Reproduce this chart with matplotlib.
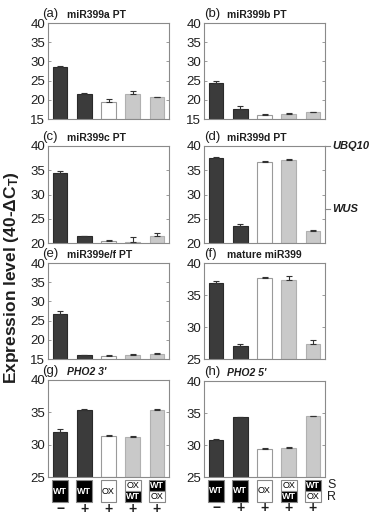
import matplotlib
matplotlib.use("Agg")
import matplotlib.pyplot as plt
from matplotlib.patches import Rectangle
import matplotlib.transforms as mtrans

plt.rcParams['font.family'] = ['Liberation Sans', 'DejaVu Sans']
plt.rcParams['mathtext.fontset'] = 'custom'
plt.rcParams['mathtext.rm'] = 'Liberation Sans:bold'
plt.rcParams['mathtext.bf'] = 'Liberation Sans:bold'
plt.rcParams['mathtext.default'] = 'bf'

# ---- data ----
letters = ['(a)', '(b)', '(c)', '(d)', '(e)', '(f)', '(g)', '(h)']
titles = ['miR399a PT', 'miR399b PT', 'miR399c PT', 'miR399d PT',
          'miR399e/f PT', 'mature miR399', "PHO2 3'", "PHO2 5'"]
a_vals = [28.5, 21.4, 19.3, 21.4, 20.7]; a_err = [0.4, 0.4, 0.8, 0.8, 0.15]
b_vals = [24.3, 17.5, 16.1, 16.3, 16.7]; b_err = [0.6, 1.0, 0.1, 0.3, 0.2]
c_vals = [34.5, 21.4, 20.4, 20.2, 21.5]; c_err = [0.35, 0.1, 0.2, 1.1, 0.5]
d_vals = [37.6, 23.6, 36.8, 37.2, 22.4]; d_err = [0.1, 0.3, 0.15, 0.2, 0.2]
e_vals = [26.8, 16.0, 15.9, 16.1, 16.4]; e_err = [0.6, 0.1, 0.1, 0.2, 0.1]
f_vals = [36.8, 27.0, 37.6, 37.4, 27.4]; f_err = [0.4, 0.4, 0.2, 0.6, 0.6]
g_vals = [31.9, 35.4, 31.4, 31.2, 35.4]; g_err = [0.5, 0.05, 0.15, 0.1, 0.05]
h_vals = [30.8, 34.4, 29.4, 29.6, 34.5]; h_err = [0.2, 0.05, 0.1, 0.15, 0.0]
ylims = [(15, 40), (15, 40), (20, 40), (20, 40), (15, 40), (25, 40), (25, 40), (25, 40)]
scion = ['WT', 'WT', 'OX', 'OX', 'WT']
root = ['WT', 'WT', 'OX', 'WT', 'OX']
pi_signs = ['\u2212', '+', '+', '+', '+']
ref_genes = ['UBQ10', 'WUS']
ref_levels = [40, 27]

vals = [a_vals, b_vals, c_vals, d_vals, e_vals, f_vals, g_vals, h_vals]
errs = [a_err, b_err, c_err, d_err, e_err, f_err, g_err, h_err]

DARK = '#3b3b3b'
LIGHT = '#c9c9c9'
FRAME = '#8a8a8a'
TXT = '#1e1e1e'
bar_fc = [DARK, DARK, 'white', LIGHT, LIGHT]
bar_ec = ['#2a2a2a', '#2a2a2a', '#9a9a9a', '#b0b0b0', '#b0b0b0']

W, H = 373, 515
fig = plt.figure(figsize=(W / 100, H / 100), dpi=100)

def rect(x0, y0, x1, y1):
    return [x0 / W, 1 - y1 / H, (x1 - x0) / W, (y1 - y0) / H]

boxes = [(48, 23, 169, 119), (204, 23, 325, 119),
         (48, 146, 169, 243), (204, 146, 325, 243),
         (48, 263, 169, 359), (204, 263, 325, 359),
         (48, 380, 169, 477), (204, 381, 325, 477)]

x = list(range(1, 6))
axes = []
for i, bx in enumerate(boxes):
    ax = fig.add_axes(rect(*bx))
    axes.append(ax)
    ax.bar(x, [v - ylims[i][0] for v in vals[i]], bottom=ylims[i][0], width=0.6,
           color=bar_fc, edgecolor=bar_ec, linewidth=0.8, zorder=2)
    ax.errorbar(x, vals[i], yerr=[[0] * 5, errs[i]], fmt='none', ecolor='#333333',
                elinewidth=0.8, capsize=2.5, capthick=0.8, zorder=3)
    ax.set_xlim(0.5, 5.5)
    ax.set_ylim(*ylims[i])
    ax.set_yticks(range(ylims[i][0], ylims[i][1] + 1, 5))
    ax.set_xticks([])
    ax.tick_params(axis='y', direction='in', length=2, width=0.6, color=FRAME,
                   labelsize=9.5, labelcolor=TXT, right=True, pad=2)
    for s in ax.spines.values():
        s.set_color(FRAME)
        s.set_linewidth(0.8)
    # panel titles
    left_col = (i % 2 == 0)
    lx = -0.045 if left_col else 0.0
    ax.text(lx, 1.03, letters[i], transform=ax.transAxes, fontsize=9.5,
            color=TXT, ha='left', va='bottom')
    style = 'italic' if i >= 6 else 'normal'
    tx = 0.155 if left_col else 0.19
    ax.text(tx, 1.03, titles[i], transform=ax.transAxes, fontsize=7.5,
            fontweight='bold', fontstyle=style, color=TXT, ha='left', va='bottom')

# reference genes on panel (d)
axd = axes[3]
tr = mtrans.blended_transform_factory(axd.transAxes, axd.transData)
for g, lv in zip(ref_genes, ref_levels):
    axd.plot([1.0, 1.04], [lv, lv], color=FRAME, lw=0.8, transform=tr, clip_on=False)
    axd.text(1.06, lv, g, transform=tr, fontsize=8, fontweight='bold',
             fontstyle='italic', color=TXT, ha='left', va='center')

# genotype boxes below (g) and (h)
for ax in axes[6:]:
    tr = mtrans.blended_transform_factory(ax.transData, ax.transAxes)
    y_top, y_mid, y_bot = -0.03, -0.145, -0.26
    bw = 0.66
    for xi, s, r, p in zip(x, scion, root, pi_signs):
        if s == r:
            fc = 'black' if s == 'WT' else 'white'
            tc = 'white' if s == 'WT' else 'black'
            ax.add_patch(Rectangle((xi - bw / 2, y_bot), bw, y_top - y_bot, transform=tr,
                                   facecolor=fc, edgecolor='#888888', lw=0.8, clip_on=False))
            ax.text(xi, (y_top + y_bot) / 2, s, transform=tr, ha='center', va='center',
                    fontsize=6.5, fontweight='bold' if s == 'WT' else 'normal', color=tc)
        else:
            for lab, (y0, y1) in ((s, (y_mid, y_top)), (r, (y_bot, y_mid))):
                fc = 'black' if lab == 'WT' else 'white'
                tc = 'white' if lab == 'WT' else 'black'
                ax.add_patch(Rectangle((xi - bw / 2, y0), bw, y1 - y0, transform=tr,
                                       facecolor=fc, edgecolor='#888888', lw=0.8, clip_on=False))
                ax.text(xi, (y0 + y1) / 2, lab, transform=tr, ha='center', va='center',
                        fontsize=6.5, fontweight='bold' if lab == 'WT' else 'normal', color=tc)
        ax.text(xi, -0.325, p, transform=tr, ha='center', va='center', fontsize=10,
                fontweight='bold', color=TXT)

axh = axes[7]
axh.text(1.02, -0.085, 'S', transform=axh.transAxes, fontsize=9, color=TXT, ha='left', va='center')
axh.text(1.02, -0.205, 'R', transform=axh.transAxes, fontsize=9, color=TXT, ha='left', va='center')

fig.text(12 / W, 1 - 278 / H, r'Expression level (40-$\Delta$C$_{T}$)', rotation=90,
         fontsize=12.5, fontweight='bold', color=TXT, ha='center', va='center')

fig.savefig('out.png', dpi=100)
